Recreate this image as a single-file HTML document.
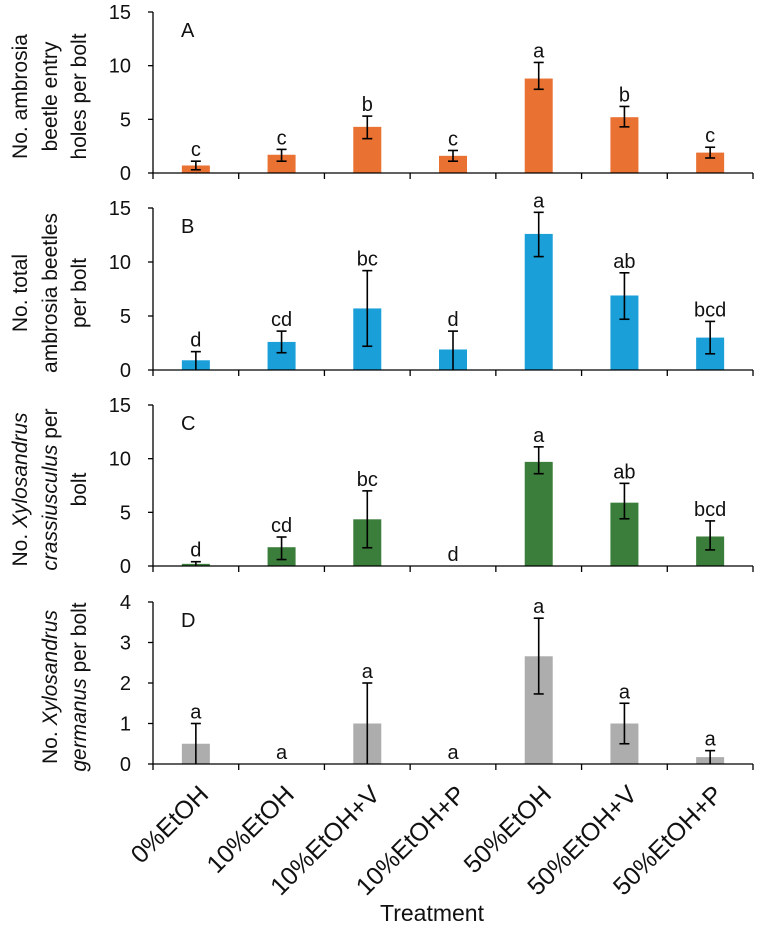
<!DOCTYPE html>
<html><head><meta charset="utf-8"><style>
html,body{margin:0;padding:0;background:#fff;}
svg{display:block;font-family:"Liberation Sans",sans-serif;}
.nar{font-family:"Liberation Sans Narrow","Liberation Sans",sans-serif;}
</style></head><body>
<svg id="chart" width="760" height="927" viewBox="0 0 760 927" xmlns="http://www.w3.org/2000/svg"></svg>
<script>
const categories = ["0%EtOH","10%EtOH","10%EtOH+V","10%EtOH+P","50%EtOH","50%EtOH+V","50%EtOH+P"];
const valuesA = [0.7,1.7,4.3,1.6,8.8,5.2,1.9];
const lowA = [0.3,1.1,3.2,1.1,7.8,4.3,1.4];
const highA = [1.1,2.2,5.3,2.1,10.3,6.2,2.4];
const lettersA = ["c","c","b","c","a","b","c"];
const valuesB = [0.9,2.6,5.7,1.9,12.6,6.9,3.0];
const lowB = [0,1.6,2.2,0,10.5,4.7,1.5];
const highB = [1.7,3.6,9.2,3.6,14.6,9.0,4.5];
const lettersB = ["d","cd","bc","d","a","ab","bcd"];
const valuesC = [0.2,1.75,4.35,0,9.7,5.9,2.75];
const lowC = [0,0.6,1.7,0,8.6,4.4,1.5];
const highC = [0.4,2.7,7.0,0,11.1,7.7,4.2];
const lettersC = ["d","cd","bc","d","a","ab","bcd"];
const valuesD = [0.5,0,1.0,0,2.66,1.0,0.17];
const lowD = [0,0,0,0,1.73,0.5,0];
const highD = [1.0,0,2.0,0,3.6,1.5,0.33];
const lettersD = ["a","a","a","a","a","a","a"];
const ticks15 = [0,5,10,15];
const ticks4 = [0,1,2,3,4];

const NS="http://www.w3.org/2000/svg";
const svg=document.getElementById('chart');
function mk(tag,attrs,parent){const e=document.createElementNS(NS,tag);for(const k in attrs)e.setAttribute(k,attrs[k]);(parent||svg).appendChild(e);return e;}
const X0=153, X1=753, catW=(X1-X0)/categories.length, BW=28;
function xc(i){return X0+catW*(i+0.5);}

const panels=[
 {id:"a",label:"A",vals:valuesA,lo:lowA,hi:highA,let:lettersA,ticks:ticks15,max:15,top:12,bot:173,color:"#E97132",title:[[[["No. ambrosia",0]],0],[[["beetle entry",0]],1],[[["holes per bolt",0]],2]]},
 {id:"b",label:"B",vals:valuesB,lo:lowB,hi:highB,let:lettersB,ticks:ticks15,max:15,top:208,bot:370,color:"#1A9FD9",title:[[[["No. total",0]],0],[[["ambrosia beetles",0]],1],[[["per bolt",0]],2]]},
 {id:"c",label:"C",vals:valuesC,lo:lowC,hi:highC,let:lettersC,ticks:ticks15,max:15,top:405,bot:566,color:"#3B7D3A",title:[[[["No. ",0],["Xylosandrus",1]],0],[[["crassiusculus",1],[" per",0]],1],[[["bolt",0]],2]]},
 {id:"d",label:"D",vals:valuesD,lo:lowD,hi:highD,let:lettersD,ticks:ticks4,max:4,top:602,bot:764,color:"#ADADAD",title:[[[["No. ",0],["Xylosandrus",1]],1],[[["germanus",1],[" per bolt",0]],2]]}
];
const titleX=[20,50,79];

panels.forEach(p=>{
  const g=mk('g',{});
  
  
  const y=v=>p.bot-(v/p.max)*(p.bot-p.top);
  p.vals.forEach((v,i)=>{
    const b=mk('rect',{x:xc(i)-BW/2,y:y(v),width:BW,height:p.bot-y(v),fill:p.color},g);
    
    
    if(p.hi[i]>0){
      const e=mk('g',{stroke:"#000","stroke-width":1.6},g);
      
      
      mk('line',{x1:xc(i),x2:xc(i),y1:y(p.lo[i]),y2:y(p.hi[i])},e);
      mk('line',{x1:xc(i)-5,x2:xc(i)+5,y1:y(p.hi[i]),y2:y(p.hi[i])},e);
      if(p.lo[i]>0) mk('line',{x1:xc(i)-5,x2:xc(i)+5,y1:y(p.lo[i]),y2:y(p.lo[i])},e);
    }
    const top=Math.max(p.hi[i],v);
    const t=mk('text',{x:xc(i),y:y(top)-5,"text-anchor":"middle","font-size":20,fill:"#111"},g);
    t.textContent=p.let[i];
    
    
  });
  const ax=mk('g',{stroke:"#000","stroke-width":1.3},g);
  
  
  mk('line',{x1:X0,x2:X0,y1:p.top,y2:p.bot},ax);
  mk('line',{x1:X0,x2:X1,y1:p.bot,y2:p.bot},ax);
  for(let i=0;i<=categories.length;i++) mk('line',{x1:X0+catW*i,x2:X0+catW*i,y1:p.bot,y2:p.bot+6},ax);
  p.ticks.forEach(tv=>{
    mk('line',{x1:X0-5,x2:X0,y1:y(tv),y2:y(tv)},ax);
    const t=mk('text',{x:X0-22,y:y(tv)+7,"text-anchor":"end","font-size":20,fill:"#111"},g);
    t.textContent=tv;
    
    
  });
  const pl=mk('text',{x:X0+28,y:p.top+25,"font-size":20,fill:"#111"},g);
  pl.textContent=p.label;
  
  
  const cy=(p.top+p.bot)/2+4;
  p.title.forEach(([segs,col])=>{
    const t=mk('text',{class:"nar",x:0,y:0,"text-anchor":"middle","font-size":21,fill:"#111",transform:`translate(${titleX[col]+7},${cy}) rotate(-90)`},g);
    
    
    segs.forEach(([s,it])=>{
      const ts=mk('tspan',it?{"font-style":"italic"}:{},t);
      ts.textContent=s;
    });
  });
});
categories.forEach((c,i)=>{
  const t=mk('text',{class:"nar","text-anchor":"end","font-size":25,fill:"#111",transform:`translate(${xc(i)+14},${796}) rotate(-45)`});
  t.textContent=c;
  
  
});
const xt=mk('text',{class:"nar",x:432,y:921,"text-anchor":"middle","font-size":23,fill:"#111"});
xt.textContent="Treatment";


</script>
</body></html>
